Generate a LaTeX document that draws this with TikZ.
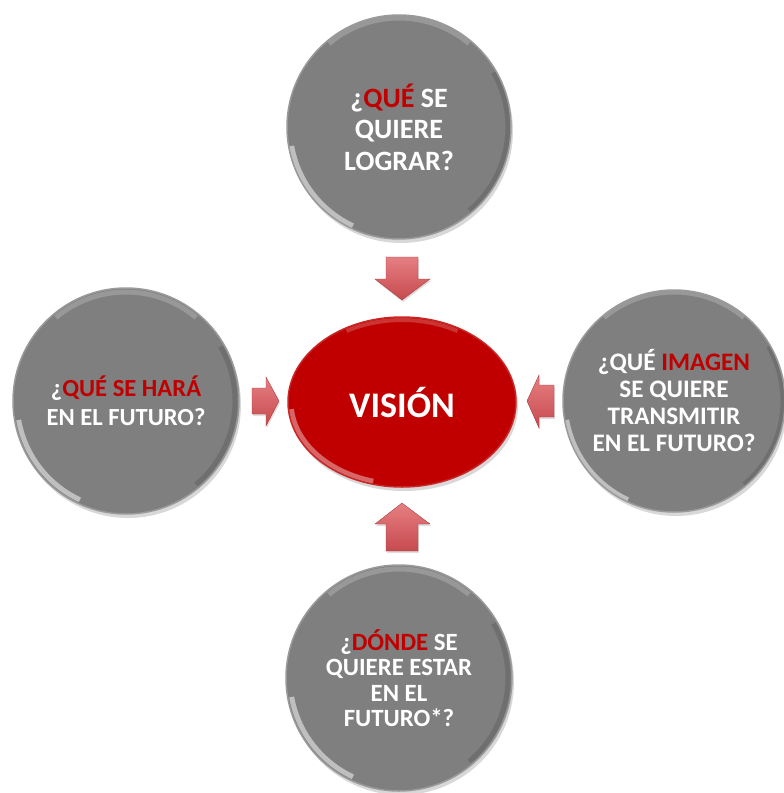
\documentclass[tikz,border=0pt]{standalone}
\usepackage{fontspec}
\setmainfont{Carlito}
\usetikzlibrary{shapes.geometric,shadows}

\definecolor{bubblegray}{HTML}{7F7F7F}
\definecolor{bubblerim}{HTML}{9A9A9A}
\definecolor{visionred}{HTML}{C00000}
\definecolor{arrowtop}{HTML}{E67F82}
\definecolor{arrowbot}{HTML}{C64A4E}
\newcommand{\rojo}[1]{\textcolor{visionred}{#1}}

\tikzset{
  bubble/.style={circle, inner sep=0pt, fill=bubblegray, draw=bubblerim, line width=1.5pt,
    text=white, align=center, font=\bfseries\fontsize{25}{27}\selectfont,
    drop shadow={opacity=0.3, shadow xshift=2pt, shadow yshift=-4pt},
    path picture={
      \draw[white, opacity=0.5, line width=5pt]
        ([shift={(190:109pt)}]path picture bounding box.center)
        arc[start angle=190, end angle=245, radius=109pt];
      \draw[white, opacity=0.2, line width=5pt]
        ([shift={(50:109pt)}]path picture bounding box.center)
        arc[start angle=50, end angle=130, radius=109pt];
      \draw[black, opacity=0.12, line width=5pt]
        ([shift={(-50:109pt)}]path picture bounding box.center)
        arc[start angle=-50, end angle=30, radius=109pt];}},
  blockarrow/.style={top color=arrowtop, bottom color=arrowbot, draw=arrowbot!85!black,
    line width=0.4pt, drop shadow={opacity=0.25, shadow xshift=1pt, shadow yshift=-2pt}}
}

\begin{document}
\begin{tikzpicture}[x=1pt, y=-1pt]
\useasboundingbox[fill=white] (0,0) rectangle (784,793);

% the four questions
\node[bubble, minimum size=224pt, font=\bfseries\fontsize{28}{31.5}\selectfont] (logro) at (399,127)
  {¿\rojo{QUÉ} SE\\QUIERE\\LOGRAR?};
\node[bubble, minimum size=226pt, font=\bfseries\fontsize{24.6}{29}\selectfont] (hacer) at (126,401)
  {¿\rojo{QUÉ SE HARÁ}\\EN EL FUTURO?};
\node[bubble, minimum size=222pt, font=\bfseries\fontsize{25.2}{27}\selectfont] (imagen) at (674,401)
  {¿QUÉ \rojo{IMAGEN}\\SE QUIERE\\TRANSMITIR\\EN EL FUTURO?};
\node[bubble, minimum size=226pt, font=\bfseries\fontsize{24.8}{25.5}\selectfont] (donde) at (399,678)
  {¿\rojo{DÓNDE} SE\\QUIERE ESTAR\\EN EL\\FUTURO*?};

% centre
\node[ellipse, minimum width=228pt, minimum height=170pt, inner sep=0pt,
  fill=visionred, draw=visionred!85!white, line width=1.5pt, text=white,
  font=\bfseries\fontsize{36}{40}\selectfont,
  drop shadow={opacity=0.3, shadow xshift=2pt, shadow yshift=-4pt},
  path picture={
    \draw[white, opacity=0.4, line width=5pt]
      ([shift={(185:111pt and 82pt)}]path picture bounding box.center)
      arc[start angle=185, end angle=255, x radius=111pt, y radius=82pt];
    \draw[white, opacity=0.2, line width=4pt]
      ([shift={(60:111pt and 82pt)}]path picture bounding box.center)
      arc[start angle=60, end angle=120, x radius=111pt, y radius=82pt];}] (vision) at (402,402) {VISIÓN};

% block arrows pointing at the centre
\path[blockarrow] (386,257) -- (418,257) -- (418,279) -- (430,279) -- (402,300)
  -- (375,279) -- (386,279) -- cycle;
\path[blockarrow] (386,551) -- (418,551) -- (418,524) -- (430,524) -- (402,503)
  -- (375,524) -- (386,524) -- cycle;
\path[blockarrow] (252,388) -- (266,388) -- (266,377) -- (279,401) -- (266,426)
  -- (266,414) -- (252,414) -- cycle;
\path[blockarrow] (554,385) -- (539,385) -- (539,375) -- (527,401) -- (539,428)
  -- (539,417) -- (554,417) -- cycle;
\end{tikzpicture}
\end{document}
